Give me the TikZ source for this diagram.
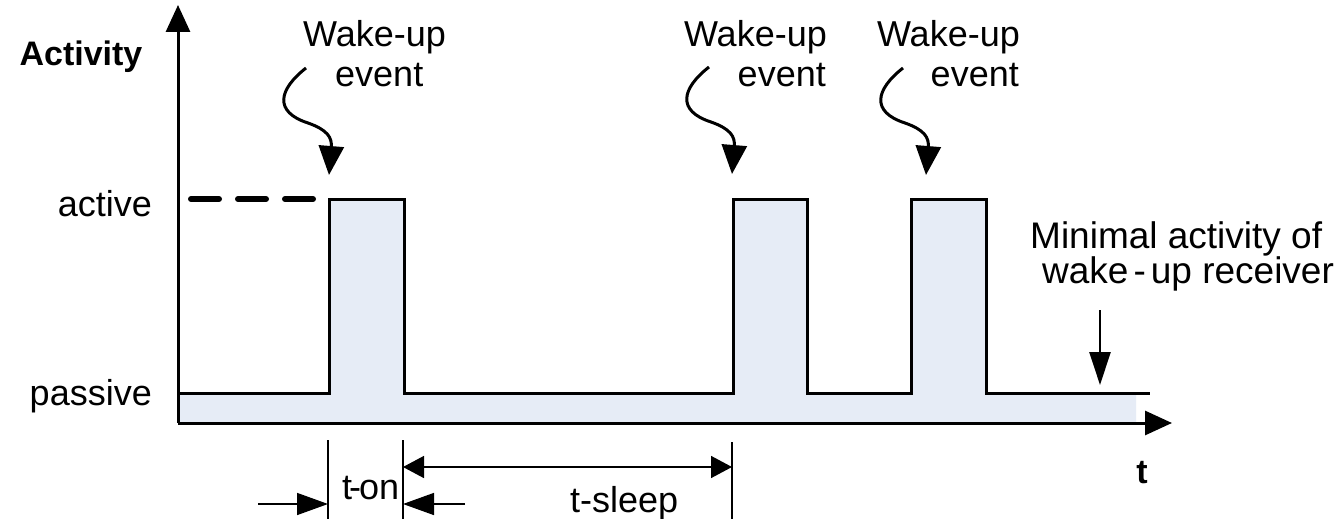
\documentclass[tikz,border=0pt]{standalone}
\usepackage{fontspec}
\setmainfont{Liberation Sans}
\usetikzlibrary{arrows.meta}
\definecolor{sigfill}{RGB}{230,236,246}
\tikzset{
  lbl/.style={inner sep=0pt, font=\fontsize{36}{40}\selectfont},
  notelbl/.style={inner sep=0pt, font=\fontsize{37}{40}\selectfont},
  boldlbl/.style={inner sep=0pt, font=\fontsize{34}{40}\selectfont\bfseries},
  axisline/.style={line width=3pt, -{Triangle[length=27pt,width=24pt]}},
  signal/.style={line width=3pt, line join=miter},
  levelfill/.style={fill=sigfill, draw=none},
  dashlevel/.style={line width=6pt, line cap=round, dash pattern=on 28pt off 19pt},
  wakearrow/.style={line width=3pt, -{Triangle[length=29pt,width=25pt]}},
  notearrow/.style={line width=2.5pt, -{Triangle[length=33pt,width=21pt]}},
  dimline/.style={line width=1.5pt},
  dimtwo/.style={line width=1.5pt, {Triangle[length=21pt,width=22pt]}-{Triangle[length=21pt,width=22pt]}},
  dimone/.style={line width=1.5pt, -{Triangle[length=31pt,width=22pt]}},
}
\begin{document}
\begin{tikzpicture}[x=1pt,y=-1pt]
  % canvas
  \fill[white] (0,0) rectangle (1339,519);
  \useasboundingbox (0,0) rectangle (1339,519);

  % axes and corner points
  \coordinate (O) at (178,423);
  \coordinate (ytip) at (178,5);
  \coordinate (xtip) at (1172,423);

  % activity trace: shaded area under the signal
  \path[levelfill] (178,423) -- (178,393) -- (329,393) -- (329,199) -- (404,199) -- (404,393)
    -- (733,393) -- (733,199) -- (807,199) -- (807,393)
    -- (911,393) -- (911,199) -- (986,199) -- (986,393)
    -- (1136,393) -- (1136,423) -- cycle;

  % activity trace: outline
  \coordinate (p1) at (329,199);
  \coordinate (p2) at (733,199);
  \coordinate (p3) at (911,199);
  \draw[signal] (178,393) -- (329,393) -- (p1) -- (404,199) -- (404,393)
    -- (733,393) -- (p2) -- (807,199) -- (807,393)
    -- (911,393) -- (p3) -- (986,199) -- (986,393) -- (1150,393);

  % dashed active level before the first wake-up
  \coordinate (dstart) at (191,199);
  \coordinate (dend) at (314,199);
  \draw[dashlevel] (dstart) -- (dend);

  % axes
  \draw[axisline] (O) -- (ytip);
  \draw[axisline] (O) -- (xtip);

  % axis labels
  \node[boldlbl, anchor=base] (ylab) at (81,66) {Activity};
  \node[boldlbl, anchor=base] (xlab) at (1142,483) {t};
  \node[lbl, anchor=base east] (lact) at (152,216) {active};
  \node[lbl, anchor=base east] (lpas) at (152,405) {passive};

  % wake-up event labels
  \node[lbl, anchor=base west] (w1a) at (303,47) {Wake-up};
  \node[lbl, anchor=base west] (w1b) at (335,86) {event};
  \node[lbl, anchor=base east] (w2a) at (827,47) {Wake-up};
  \node[lbl, anchor=base east] (w2b) at (826,86) {event};
  \node[lbl, anchor=base east] (w3a) at (1020,47) {Wake-up};
  \node[lbl, anchor=base east] (w3b) at (1019,86) {event};

  % wavy wake-up arrows
  \foreach \sx/\sy/\nm in {306/68/a, 709/67/b, 903/68/c}{
    \begin{scope}[shift={(\sx,\sy)}]
      \coordinate (ws\nm) at (0,0);
      \coordinate (we\nm) at (23,107);
      \draw[wakearrow] (ws\nm) .. controls (-28,22) and (-32,44) .. (2,55)
        .. controls (22,62) and (26,70) .. (we\nm);
    \end{scope}
  }

  % minimal activity note
  \node[notelbl, anchor=base west] (m1) at (1030,248) {Minimal activity of};
  \node[notelbl, anchor=base west] (m2) at (1042,283) {wake\hspace{5pt}-\hspace{5pt}up receiver};
  \coordinate (ntail) at (1100,310);
  \coordinate (nhead) at (1100,385);
  \draw[notearrow] (ntail) -- (nhead);

  % timing dimensions
  \coordinate (v1t) at (328,440); \coordinate (v1b) at (328,519);
  \coordinate (v2t) at (403,440); \coordinate (v2b) at (403,519);
  \coordinate (v3t) at (732,442); \coordinate (v3b) at (732,519);
  \draw[dimline] (v1t) -- (v1b);
  \draw[dimline] (v2t) -- (v2b);
  \draw[dimline] (v3t) -- (v3b);
  \coordinate (s1) at (403,467); \coordinate (s2) at (732,467);
  \draw[dimtwo] (s1) -- (s2);
  \coordinate (a1) at (258,504); \coordinate (a2) at (328,504);
  \coordinate (b1) at (465,504); \coordinate (b2) at (403,504);
  \draw[dimone] (a1) -- (a2);
  \draw[dimone] (b1) -- (b2);
  \node[lbl, anchor=base west] (ton) at (342,499) {t\kern-3pt-\kern-2pt on};
  \node[lbl, anchor=base west] (tsleep) at (570,512) {t-sleep};
\end{tikzpicture}
\end{document}
